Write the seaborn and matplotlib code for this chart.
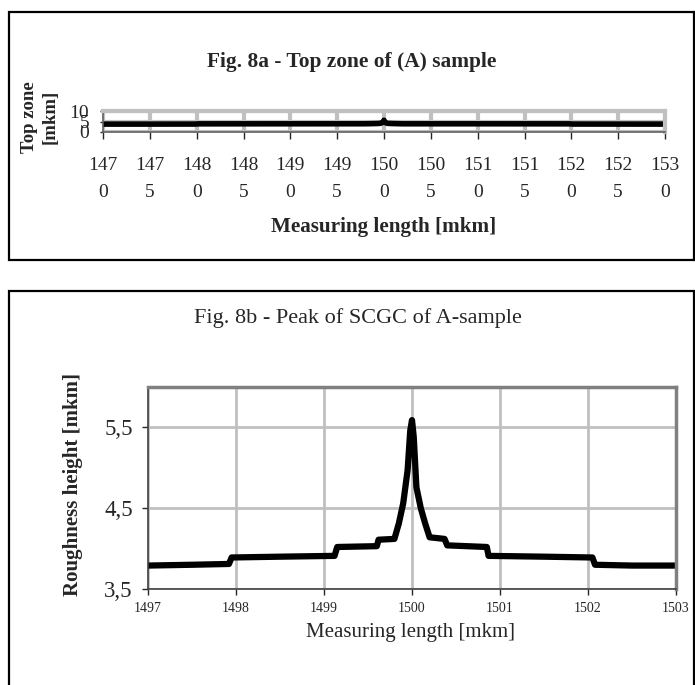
import numpy as np
import pandas as pd
import matplotlib
matplotlib.use("Agg")
import matplotlib.pyplot as plt
from matplotlib.patches import Rectangle
from matplotlib.ticker import FuncFormatter
import seaborn as sns

# ---- data ----
# Fig. 8a: wide view of the top zone
top_x = [1470, 1475, 1479.8, 1480.2, 1490, 1497, 1498, 1499.2, 1499.6, 1499.9,
         1500, 1500.1, 1500.4, 1500.9, 1502, 1510, 1519.8, 1520.2, 1525, 1530]
top_y = [3.75, 3.76, 3.78, 3.88, 3.90, 3.91, 3.92, 4.02, 4.12, 4.6,
         5.6, 4.5, 4.10, 4.02, 3.90, 3.90, 3.88, 3.78, 3.77, 3.76]

# Fig. 8b: close-up of the peak
peak_x = [1497.0, 1497.5, 1497.92, 1497.95, 1498.5, 1499.12, 1499.15, 1499.6,
          1499.62, 1499.8, 1499.85, 1499.9, 1499.95, 1499.98, 1500.0, 1500.02,
          1500.05, 1500.1, 1500.15, 1500.2, 1500.37, 1500.4, 1500.85, 1500.87,
          1501.5, 1502.05, 1502.08, 1502.5, 1503.0]
peak_y = [3.79, 3.80, 3.81, 3.89, 3.90, 3.91, 4.02, 4.03,
          4.11, 4.12, 4.31, 4.56, 4.97, 5.46, 5.59, 5.38,
          4.76, 4.50, 4.31, 4.14, 4.12, 4.04, 4.02, 3.91,
          3.90, 3.89, 3.80, 3.79, 3.79]

top_ticks = list(range(1470, 1531, 5))
top_ticklabels = [f"{str(t)[:3]}\n{str(t)[3:]}" for t in top_ticks]
peak_ticks = list(range(1497, 1504))

sns.set_style("white")
plt.rcParams["font.family"] = ["Liberation Serif", "DejaVu Serif"]

W, H = 695, 685
fig = plt.figure(figsize=(W / 100, H / 100), dpi=100)


def fig_rect(x0, y0, x1, y1):
    return [x0 / W, 1 - y1 / H, (x1 - x0) / W, (y1 - y0) / H]


def place_label(axis, x, y):
    # centre an axis label on pixel (x, y) of the figure
    axis.set_label_coords(x / W, 1 - y / H, transform=fig.transFigure)
    axis.label.set_ha("center")
    axis.label.set_va("center")
    axis.label.set_rotation_mode("default")


# outer frames
for (x0, y0, x1, y1) in [(9, 12, 694, 260), (9, 291, 694, 700)]:
    l, b, w, h = fig_rect(x0, y0, x1, y1)
    fig.patches.append(Rectangle((l, b), w, h, transform=fig.transFigure,
                                 fill=False, edgecolor="black", lw=1.6))

grid_c = "#c0c0c0"
spine_c = "#808080"

# ---- Fig. 8a ----
ax1 = fig.add_axes(fig_rect(103, 111, 665, 132))
d1 = pd.DataFrame({"x": top_x, "y": top_y})
sns.lineplot(data=d1, x="x", y="y", ax=ax1, color="black", lw=4,
             estimator=None, marker="s", markersize=3, markeredgewidth=0)
ax1.set_xlim(1470, 1530)
ax1.set_ylim(0, 10)
ax1.set_xticks(top_ticks)
ax1.set_xticklabels(top_ticklabels, fontsize=14, linespacing=1.75)
ax1.set_yticks([0, 5, 10])
ax1.set_yticklabels(["0", "5", "10"], fontsize=14)
ax1.grid(True, color=grid_c, lw=3)
for s in ["top", "right"]:
    ax1.spines[s].set_color(grid_c)
    ax1.spines[s].set_linewidth(3)
for s in ["left", "bottom"]:
    ax1.spines[s].set_color("#606060")
    ax1.spines[s].set_linewidth(1.2)
ax1.tick_params(axis="x", direction="out", length=5, width=1, pad=13, bottom=True)
ax1.tick_params(axis="y", direction="out", length=2, width=1, pad=8, left=True)
ax1.set_xlabel("Measuring length [mkm]", fontsize=15.2, fontweight="bold")
ax1.set_ylabel("Top zone\n[mkm]", fontsize=13.5, fontweight="bold",
               linespacing=1.25)
place_label(ax1.xaxis, 384, 227)
place_label(ax1.yaxis, 40, 117)
fig.text(352 / W, 1 - 62 / H, "Fig. 8a - Top zone of (A) sample",
         ha="center", va="center", fontsize=15.4, fontweight="bold")

# ---- Fig. 8b ----
ax2 = fig.add_axes(fig_rect(148, 387, 676, 589))
d2 = pd.DataFrame({"x": peak_x, "y": peak_y})
sns.lineplot(data=d2, x="x", y="y", ax=ax2, color="black", lw=4.5,
             estimator=None, marker="s", markersize=3, markeredgewidth=0)
ax2.set_xlim(1497, 1503)
ax2.set_ylim(3.5, 6.0)
ax2.set_xticks(peak_ticks)
ax2.set_xticklabels([str(t) for t in peak_ticks], fontsize=10)
ax2.set_yticks([3.5, 4.5, 5.5])
ax2.yaxis.set_major_formatter(FuncFormatter(lambda v, p: f"{v:.1f}".replace(".", ",")))
ax2.tick_params(axis="y", labelsize=16.5)
ax2.grid(True, color=grid_c, lw=2)
for s in ["top", "right"]:
    ax2.spines[s].set_color(spine_c)
    ax2.spines[s].set_linewidth(2.5)
for s in ["left", "bottom"]:
    ax2.spines[s].set_color("#404040")
    ax2.spines[s].set_linewidth(1.2)
ax2.tick_params(axis="x", direction="out", length=4.5, width=1, pad=5, bottom=True)
ax2.tick_params(axis="y", direction="out", length=4.5, width=1, pad=6.5, left=True)
ax2.set_xlabel("Measuring length [mkm]", fontsize=15)
ax2.set_ylabel("Roughness height [mkm]", fontsize=15, fontweight="bold")
place_label(ax2.xaxis, 411, 632)
place_label(ax2.yaxis, 73, 485)
fig.text(358 / W, 1 - 318 / H, "Fig. 8b - Peak of SCGC of A-sample",
         ha="center", va="center", fontsize=16)

fig.savefig("out.png", dpi=100)
